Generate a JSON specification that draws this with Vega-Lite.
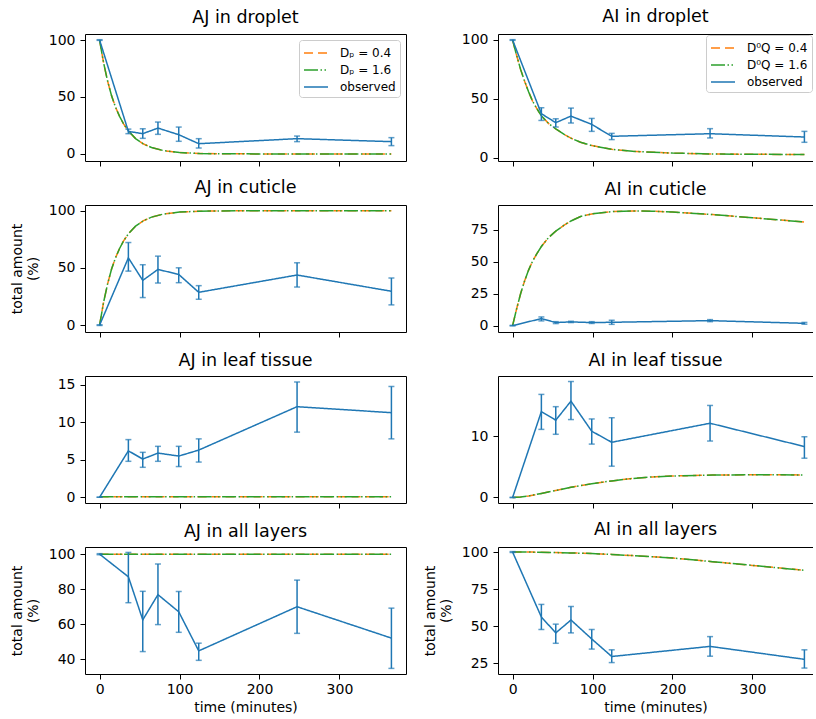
{
  "$schema": "https://vega.github.io/schema/vega-lite/v6.json",
  "autosize": {"type": "pad"},
  "padding": {"left": 9, "top": 8, "right": 0, "bottom": 0},
  "background": "#ffffff",
  "datasets": {
    "model": [
      {"p":"AJd","t":0,"y":100},{"p":"AJd","t":5,"y":80},{"p":"AJd","t":10,"y":64},{"p":"AJd","t":15,"y":51},{"p":"AJd","t":20,"y":41},{"p":"AJd","t":25,"y":33},{"p":"AJd","t":30,"y":26.4},{"p":"AJd","t":36,"y":20.2},{"p":"AJd","t":45,"y":13.5},{"p":"AJd","t":55,"y":8.7},{"p":"AJd","t":65,"y":5.6},{"p":"AJd","t":80,"y":2.9},{"p":"AJd","t":100,"y":1.2},{"p":"AJd","t":125,"y":0.4},{"p":"AJd","t":150,"y":0.15},{"p":"AJd","t":200,"y":0.02},{"p":"AJd","t":250,"y":0},{"p":"AJd","t":300,"y":0},{"p":"AJd","t":365,"y":0},
      {"p":"AJc","t":0,"y":0},{"p":"AJc","t":5,"y":20},{"p":"AJc","t":10,"y":36},{"p":"AJc","t":15,"y":49},{"p":"AJc","t":20,"y":59},{"p":"AJc","t":25,"y":67},{"p":"AJc","t":30,"y":73.6},{"p":"AJc","t":36,"y":79.8},{"p":"AJc","t":45,"y":86.5},{"p":"AJc","t":55,"y":91.3},{"p":"AJc","t":65,"y":94.4},{"p":"AJc","t":80,"y":97.1},{"p":"AJc","t":100,"y":98.8},{"p":"AJc","t":125,"y":99.6},{"p":"AJc","t":150,"y":99.85},{"p":"AJc","t":200,"y":99.98},{"p":"AJc","t":250,"y":100},{"p":"AJc","t":300,"y":100},{"p":"AJc","t":365,"y":100},
      {"p":"AJt","t":0,"y":0.05},{"p":"AJt","t":50,"y":0.05},{"p":"AJt","t":100,"y":0.05},{"p":"AJt","t":150,"y":0.05},{"p":"AJt","t":200,"y":0.05},{"p":"AJt","t":250,"y":0.05},{"p":"AJt","t":300,"y":0.05},{"p":"AJt","t":365,"y":0.05},
      {"p":"AJa","t":0,"y":100},{"p":"AJa","t":100,"y":100},{"p":"AJa","t":200,"y":99.95},{"p":"AJa","t":300,"y":99.9},{"p":"AJa","t":365,"y":99.9},
      {"p":"AId","t":0,"y":100},{"p":"AId","t":5,"y":87},{"p":"AId","t":10,"y":75},{"p":"AId","t":15,"y":65},{"p":"AId","t":20,"y":56},{"p":"AId","t":25,"y":48},{"p":"AId","t":30,"y":42},{"p":"AId","t":36,"y":35.5},{"p":"AId","t":45,"y":29},{"p":"AId","t":54,"y":24.5},{"p":"AId","t":65,"y":19.5},{"p":"AId","t":73,"y":16.5},{"p":"AId","t":85,"y":13},{"p":"AId","t":99,"y":10.2},{"p":"AId","t":124,"y":7},{"p":"AId","t":150,"y":5.3},{"p":"AId","t":200,"y":3.8},{"p":"AId","t":250,"y":3.1},{"p":"AId","t":300,"y":2.8},{"p":"AId","t":365,"y":2.6},
      {"p":"AIc","t":0,"y":0},{"p":"AIc","t":5,"y":13},{"p":"AIc","t":10,"y":25},{"p":"AIc","t":15,"y":35},{"p":"AIc","t":20,"y":43.5},{"p":"AIc","t":25,"y":50.5},{"p":"AIc","t":30,"y":56},{"p":"AIc","t":36,"y":62},{"p":"AIc","t":45,"y":69},{"p":"AIc","t":54,"y":74},{"p":"AIc","t":65,"y":79},{"p":"AIc","t":73,"y":82},{"p":"AIc","t":85,"y":85.5},{"p":"AIc","t":99,"y":87.5},{"p":"AIc","t":124,"y":89.3},{"p":"AIc","t":150,"y":89.8},{"p":"AIc","t":175,"y":89.6},{"p":"AIc","t":200,"y":89},{"p":"AIc","t":250,"y":87},{"p":"AIc","t":300,"y":84.5},{"p":"AIc","t":365,"y":81.2},
      {"p":"AIt","t":0,"y":0},{"p":"AIt","t":10,"y":0.08},{"p":"AIt","t":20,"y":0.25},{"p":"AIt","t":36,"y":0.65},{"p":"AIt","t":54,"y":1.15},{"p":"AIt","t":73,"y":1.65},{"p":"AIt","t":99,"y":2.25},{"p":"AIt","t":124,"y":2.7},{"p":"AIt","t":150,"y":3.1},{"p":"AIt","t":175,"y":3.35},{"p":"AIt","t":200,"y":3.5},{"p":"AIt","t":250,"y":3.65},{"p":"AIt","t":300,"y":3.7},{"p":"AIt","t":365,"y":3.68},
      {"p":"AIa","t":0,"y":100},{"p":"AIa","t":25,"y":99.95},{"p":"AIa","t":50,"y":99.7},{"p":"AIa","t":73,"y":99.4},{"p":"AIa","t":99,"y":99},{"p":"AIa","t":124,"y":98.4},{"p":"AIa","t":150,"y":97.6},{"p":"AIa","t":200,"y":96},{"p":"AIa","t":250,"y":93.5},{"p":"AIa","t":300,"y":91},{"p":"AIa","t":365,"y":87.7}
    ],
    "obs": [
      {"p":"AJd","t":0,"y":100,"lo":99.7,"hi":100.3},{"p":"AJd","t":36,"y":19.8,"lo":17.8,"hi":21.8},{"p":"AJd","t":54,"y":17.8,"lo":13.7,"hi":22.1},{"p":"AJd","t":73,"y":22.7,"lo":17.2,"hi":28},{"p":"AJd","t":99,"y":16.9,"lo":11.1,"hi":23.6},{"p":"AJd","t":124,"y":9.0,"lo":5.2,"hi":13.4},{"p":"AJd","t":247,"y":13.4,"lo":10.8,"hi":15.7},{"p":"AJd","t":365,"y":10.8,"lo":7.3,"hi":14.3},
      {"p":"AId","t":0,"y":100,"lo":99.7,"hi":100.3},{"p":"AId","t":36,"y":37.3,"lo":31.6,"hi":42.4},{"p":"AId","t":54,"y":29.7,"lo":26,"hi":33},{"p":"AId","t":73,"y":35.3,"lo":29.4,"hi":42.1},{"p":"AId","t":99,"y":28.2,"lo":22.3,"hi":33.3},{"p":"AId","t":124,"y":18.1,"lo":15.3,"hi":20.6},{"p":"AId","t":247,"y":20.3,"lo":16.7,"hi":24.6},{"p":"AId","t":365,"y":17.5,"lo":13,"hi":22.3},
      {"p":"AJc","t":0,"y":0,"lo":-0.3,"hi":0.3},{"p":"AJc","t":36,"y":58.8,"lo":47.2,"hi":72.2},{"p":"AJc","t":54,"y":39.1,"lo":24.1,"hi":52.8},{"p":"AJc","t":73,"y":48.7,"lo":36.8,"hi":60.3},{"p":"AJc","t":99,"y":44.3,"lo":37.1,"hi":50.1},{"p":"AJc","t":124,"y":28.7,"lo":22.6,"hi":34.5},{"p":"AJc","t":247,"y":43.8,"lo":33.3,"hi":54.5},{"p":"AJc","t":365,"y":29.6,"lo":17.7,"hi":41.2},
      {"p":"AIc","t":0,"y":0,"lo":-0.2,"hi":0.2},{"p":"AIc","t":36,"y":5.5,"lo":3.7,"hi":6.8},{"p":"AIc","t":54,"y":2.4,"lo":1.6,"hi":3.1},{"p":"AIc","t":73,"y":2.9,"lo":2.4,"hi":3.4},{"p":"AIc","t":99,"y":2.4,"lo":1.7,"hi":3.1},{"p":"AIc","t":124,"y":2.6,"lo":1.0,"hi":4.2},{"p":"AIc","t":247,"y":3.9,"lo":3.1,"hi":4.7},{"p":"AIc","t":365,"y":1.8,"lo":1.1,"hi":2.5},
      {"p":"AJt","t":0,"y":0,"lo":0,"hi":0},{"p":"AJt","t":36,"y":6.2,"lo":4.8,"hi":7.7},{"p":"AJt","t":54,"y":5.1,"lo":4.0,"hi":6.0},{"p":"AJt","t":73,"y":5.9,"lo":4.8,"hi":6.8},{"p":"AJt","t":99,"y":5.5,"lo":4.1,"hi":6.8},{"p":"AJt","t":124,"y":6.3,"lo":4.7,"hi":7.8},{"p":"AJt","t":247,"y":12.1,"lo":8.7,"hi":15.4},{"p":"AJt","t":365,"y":11.3,"lo":7.8,"hi":14.8},
      {"p":"AIt","t":0,"y":0,"lo":0,"hi":0},{"p":"AIt","t":36,"y":14.0,"lo":11.1,"hi":16.8},{"p":"AIt","t":54,"y":12.6,"lo":10.3,"hi":14.8},{"p":"AIt","t":73,"y":15.7,"lo":12.7,"hi":18.9},{"p":"AIt","t":99,"y":10.8,"lo":8.7,"hi":12.8},{"p":"AIt","t":124,"y":9.0,"lo":5.1,"hi":13.0},{"p":"AIt","t":247,"y":12.1,"lo":9.2,"hi":15.0},{"p":"AIt","t":365,"y":8.3,"lo":6.4,"hi":9.9},
      {"p":"AJa","t":0,"y":100,"lo":99.7,"hi":100.3},{"p":"AJa","t":36,"y":87.1,"lo":72.3,"hi":101},{"p":"AJa","t":54,"y":62.5,"lo":44.4,"hi":78.8},{"p":"AJa","t":73,"y":76.9,"lo":59.8,"hi":94.4},{"p":"AJa","t":99,"y":67.1,"lo":55.4,"hi":78.7},{"p":"AJa","t":124,"y":44.8,"lo":39.4,"hi":49.2},{"p":"AJa","t":247,"y":70.0,"lo":54.8,"hi":85.2},{"p":"AJa","t":365,"y":52.1,"lo":34.8,"hi":69.2},
      {"p":"AIa","t":0,"y":100,"lo":99.7,"hi":100.3},{"p":"AIa","t":36,"y":56.2,"lo":47.8,"hi":64.7},{"p":"AIa","t":54,"y":45.5,"lo":38.5,"hi":51.4},{"p":"AIa","t":73,"y":54.2,"lo":45.5,"hi":63.3},{"p":"AIa","t":99,"y":41.4,"lo":34.6,"hi":47.8},{"p":"AIa","t":124,"y":29.6,"lo":25.5,"hi":34.1},{"p":"AIa","t":247,"y":36.4,"lo":29.8,"hi":43.0},{"p":"AIa","t":365,"y":27.7,"lo":21.8,"hi":34.1}
    ]
  },
  "columns": 2,
  "spacing": {"row": 44, "column": 92},
  "bounds": "flush",
  "resolve": {
    "scale": {"x": "independent", "y": "independent", "color": "independent", "strokeDash": "independent"},
    "axis": {"x": "independent", "y": "independent"},
    "legend": {"color": "independent", "strokeDash": "independent"}
  },
  "concat": [
    {
      "title": "AJ in droplet", "width": 321, "height": 127,
      "encoding": {"x": {"field": "t", "type": "quantitative", "scale": {"domain": [-18.25, 383.25], "nice": false, "zero": false}, "axis": {"values": [0, 100, 200, 300], "labels": false, "title": null}}},
      "layer": [
        {"data": {"name": "model"}, "transform": [{"filter": "datum.p == 'AJd'"}], "mark": {"type": "line", "strokeWidth": 1.5},
         "encoding": {"y": {"field": "y", "type": "quantitative", "scale": {"domain": [-6.2, 105.3], "nice": false, "zero": false}, "axis": {"values": [0, 50, 100], "title": null}},
           "color": {"datum": "0.4", "type": "nominal", "scale": {"domain": ["0.4", "1.6", "observed"], "range": ["#ff7f0e", "#2ca02c", "#1f77b4"]}, "legend": {"title": null, "labelExpr": "datum.label == 'observed' ? 'observed' : 'Dₚ = ' + datum.label"}},
           "strokeDash": {"datum": "0.4", "type": "nominal", "scale": {"domain": ["0.4", "1.6", "observed"], "range": [[9, 5], [14, 2.5, 1.5, 2.5, 1.5, 2.5], [1, 0]]}, "legend": {"title": null, "labelExpr": "datum.label == 'observed' ? 'observed' : 'Dₚ = ' + datum.label"}}}},
        {"data": {"name": "model"}, "transform": [{"filter": "datum.p == 'AJd'"}], "mark": {"type": "line", "strokeWidth": 1.5},
         "encoding": {"y": {"field": "y", "type": "quantitative", "axis": {"values": [0, 50, 100], "title": null}}, "color": {"datum": "1.6", "type": "nominal"}, "strokeDash": {"datum": "1.6", "type": "nominal"}}},
        {"data": {"name": "obs"}, "transform": [{"filter": "datum.p == 'AJd'"}], "mark": {"type": "line", "strokeWidth": 1.5},
         "encoding": {"y": {"field": "y", "type": "quantitative", "axis": {"values": [0, 50, 100], "title": null}}, "color": {"datum": "observed", "type": "nominal"}, "strokeDash": {"datum": "observed", "type": "nominal"}}},
        {"data": {"name": "obs"}, "transform": [{"filter": "datum.p == 'AJd'"}], "mark": {"type": "errorbar", "ticks": true, "size": 6, "thickness": 1.5, "color": "#1f77b4"},
         "encoding": {"y": {"field": "lo", "type": "quantitative", "axis": {"values": [0, 50, 100], "title": null}}, "y2": {"field": "hi"}}}
      ]
    },
    {
      "title": "AI in droplet", "width": 315, "height": 127,
      "view": {"stroke": null},
      "resolve": {"axis": {"x": "independent"}},
      "layer": [
        {"data": {"name": "model"}, "transform": [{"filter": "datum.p == 'AId'"}], "mark": {"type": "line", "strokeWidth": 1.5},
         "encoding": {"x": {"field": "t", "type": "quantitative", "scale": {"domain": [-18.25, 375.75], "nice": false, "zero": false}, "axis": {"orient": "top", "domain": true, "domainColor": "#000000", "domainWidth": 1, "ticks": false, "labels": false, "title": null}},
           "y": {"field": "y", "type": "quantitative", "scale": {"domain": [-2.9, 105.1], "nice": false, "zero": false}, "axis": {"values": [0, 50, 100], "title": null, "domain": true, "domainColor": "#000000", "domainWidth": 1}},
           "color": {"datum": "0.4", "type": "nominal", "scale": {"domain": ["0.4", "1.6", "observed"], "range": ["#ff7f0e", "#2ca02c", "#1f77b4"]}, "legend": {"title": null, "offset": 1, "labelExpr": "datum.label == 'observed' ? 'observed' : 'D⁰Q = ' + datum.label"}},
           "strokeDash": {"datum": "0.4", "type": "nominal", "scale": {"domain": ["0.4", "1.6", "observed"], "range": [[9, 5], [14, 2.5, 1.5, 2.5, 1.5, 2.5], [1, 0]]}, "legend": {"title": null, "offset": 1, "labelExpr": "datum.label == 'observed' ? 'observed' : 'D⁰Q = ' + datum.label"}}}},
        {"data": {"name": "model"}, "transform": [{"filter": "datum.p == 'AId'"}], "mark": {"type": "line", "strokeWidth": 1.5},
         "encoding": {"x": {"field": "t", "type": "quantitative", "axis": null}, "y": {"field": "y", "type": "quantitative", "axis": {"values": [0, 50, 100], "title": null, "domain": true, "domainColor": "#000000", "domainWidth": 1}}, "color": {"datum": "1.6", "type": "nominal"}, "strokeDash": {"datum": "1.6", "type": "nominal"}}},
        {"data": {"name": "obs"}, "transform": [{"filter": "datum.p == 'AId'"}], "mark": {"type": "line", "strokeWidth": 1.5},
         "encoding": {"x": {"field": "t", "type": "quantitative", "axis": {"values": [0, 100, 200, 300], "labels": false, "title": null, "domain": true, "domainColor": "#000000", "domainWidth": 1}}, "y": {"field": "y", "type": "quantitative", "axis": {"values": [0, 50, 100], "title": null, "domain": true, "domainColor": "#000000", "domainWidth": 1}}, "color": {"datum": "observed", "type": "nominal"}, "strokeDash": {"datum": "observed", "type": "nominal"}}},
        {"data": {"name": "obs"}, "transform": [{"filter": "datum.p == 'AId'"}], "mark": {"type": "errorbar", "ticks": true, "size": 6, "thickness": 1.5, "color": "#1f77b4"},
         "encoding": {"x": {"field": "t", "type": "quantitative", "axis": null}, "y": {"field": "lo", "type": "quantitative", "axis": {"values": [0, 50, 100], "title": null, "domain": true, "domainColor": "#000000", "domainWidth": 1}}, "y2": {"field": "hi"}}}
      ]
    },
    {
      "title": "AJ in cuticle", "width": 321, "height": 127,
      "encoding": {"x": {"field": "t", "type": "quantitative", "scale": {"domain": [-18.25, 383.25], "nice": false, "zero": false}, "axis": {"values": [0, 100, 200, 300], "labels": false, "title": null}}},
      "layer": [
        {"data": {"name": "model"}, "transform": [{"filter": "datum.p == 'AJc'"}], "mark": {"type": "line", "strokeWidth": 1.5},
         "encoding": {"y": {"field": "y", "type": "quantitative", "scale": {"domain": [-6, 105], "nice": false, "zero": false}, "axis": {"values": [0, 50, 100], "title": ["total amount", "(%)"]}},
           "color": {"datum": "0.4", "type": "nominal", "scale": {"domain": ["0.4", "1.6", "observed"], "range": ["#ff7f0e", "#2ca02c", "#1f77b4"]}, "legend": null},
           "strokeDash": {"datum": "0.4", "type": "nominal", "scale": {"domain": ["0.4", "1.6", "observed"], "range": [[9, 5], [14, 2.5, 1.5, 2.5, 1.5, 2.5], [1, 0]]}, "legend": null}}},
        {"data": {"name": "model"}, "transform": [{"filter": "datum.p == 'AJc'"}], "mark": {"type": "line", "strokeWidth": 1.5},
         "encoding": {"y": {"field": "y", "type": "quantitative", "axis": {"values": [0, 50, 100], "title": ["total amount", "(%)"]}}, "color": {"datum": "1.6", "type": "nominal", "legend": null}, "strokeDash": {"datum": "1.6", "type": "nominal", "legend": null}}},
        {"data": {"name": "obs"}, "transform": [{"filter": "datum.p == 'AJc'"}], "mark": {"type": "line", "strokeWidth": 1.5},
         "encoding": {"y": {"field": "y", "type": "quantitative", "axis": {"values": [0, 50, 100], "title": ["total amount", "(%)"]}}, "color": {"datum": "observed", "type": "nominal", "legend": null}, "strokeDash": {"datum": "observed", "type": "nominal", "legend": null}}},
        {"data": {"name": "obs"}, "transform": [{"filter": "datum.p == 'AJc'"}], "mark": {"type": "errorbar", "ticks": true, "size": 6, "thickness": 1.5, "color": "#1f77b4"},
         "encoding": {"y": {"field": "lo", "type": "quantitative", "axis": {"values": [0, 50, 100], "title": ["total amount", "(%)"]}}, "y2": {"field": "hi"}}}
      ]
    },
    {
      "title": "AI in cuticle", "width": 315, "height": 127,
      "view": {"stroke": null},
      "resolve": {"axis": {"x": "independent"}},
      "layer": [
        {"data": {"name": "model"}, "transform": [{"filter": "datum.p == 'AIc'"}], "mark": {"type": "line", "strokeWidth": 1.5},
         "encoding": {"x": {"field": "t", "type": "quantitative", "scale": {"domain": [-18.25, 375.75], "nice": false, "zero": false}, "axis": {"orient": "top", "domain": true, "domainColor": "#000000", "domainWidth": 1, "ticks": false, "labels": false, "title": null}},
           "y": {"field": "y", "type": "quantitative", "scale": {"domain": [-5, 94.5], "nice": false, "zero": false}, "axis": {"values": [0, 25, 50, 75], "title": null, "domain": true, "domainColor": "#000000", "domainWidth": 1}},
           "color": {"datum": "0.4", "type": "nominal", "scale": {"domain": ["0.4", "1.6", "observed"], "range": ["#ff7f0e", "#2ca02c", "#1f77b4"]}, "legend": null},
           "strokeDash": {"datum": "0.4", "type": "nominal", "scale": {"domain": ["0.4", "1.6", "observed"], "range": [[9, 5], [14, 2.5, 1.5, 2.5, 1.5, 2.5], [1, 0]]}, "legend": null}}},
        {"data": {"name": "model"}, "transform": [{"filter": "datum.p == 'AIc'"}], "mark": {"type": "line", "strokeWidth": 1.5},
         "encoding": {"x": {"field": "t", "type": "quantitative", "axis": null}, "y": {"field": "y", "type": "quantitative", "axis": {"values": [0, 25, 50, 75], "title": null, "domain": true, "domainColor": "#000000", "domainWidth": 1}}, "color": {"datum": "1.6", "type": "nominal", "legend": null}, "strokeDash": {"datum": "1.6", "type": "nominal", "legend": null}}},
        {"data": {"name": "obs"}, "transform": [{"filter": "datum.p == 'AIc'"}], "mark": {"type": "line", "strokeWidth": 1.5},
         "encoding": {"x": {"field": "t", "type": "quantitative", "axis": {"values": [0, 100, 200, 300], "labels": false, "title": null, "domain": true, "domainColor": "#000000", "domainWidth": 1}}, "y": {"field": "y", "type": "quantitative", "axis": {"values": [0, 25, 50, 75], "title": null, "domain": true, "domainColor": "#000000", "domainWidth": 1}}, "color": {"datum": "observed", "type": "nominal", "legend": null}, "strokeDash": {"datum": "observed", "type": "nominal", "legend": null}}},
        {"data": {"name": "obs"}, "transform": [{"filter": "datum.p == 'AIc'"}], "mark": {"type": "errorbar", "ticks": true, "size": 6, "thickness": 1.5, "color": "#1f77b4"},
         "encoding": {"x": {"field": "t", "type": "quantitative", "axis": null}, "y": {"field": "lo", "type": "quantitative", "axis": {"values": [0, 25, 50, 75], "title": null, "domain": true, "domainColor": "#000000", "domainWidth": 1}}, "y2": {"field": "hi"}}}
      ]
    },
    {
      "title": "AJ in leaf tissue", "width": 321, "height": 127,
      "encoding": {"x": {"field": "t", "type": "quantitative", "scale": {"domain": [-18.25, 383.25], "nice": false, "zero": false}, "axis": {"values": [0, 100, 200, 300], "labels": false, "title": null}}},
      "layer": [
        {"data": {"name": "model"}, "transform": [{"filter": "datum.p == 'AJt'"}], "mark": {"type": "line", "strokeWidth": 1.5},
         "encoding": {"y": {"field": "y", "type": "quantitative", "scale": {"domain": [-0.77, 16.2], "nice": false, "zero": false}, "axis": {"values": [0, 5, 10, 15], "title": null}},
           "color": {"datum": "0.4", "type": "nominal", "scale": {"domain": ["0.4", "1.6", "observed"], "range": ["#ff7f0e", "#2ca02c", "#1f77b4"]}, "legend": null},
           "strokeDash": {"datum": "0.4", "type": "nominal", "scale": {"domain": ["0.4", "1.6", "observed"], "range": [[9, 5], [14, 2.5, 1.5, 2.5, 1.5, 2.5], [1, 0]]}, "legend": null}}},
        {"data": {"name": "model"}, "transform": [{"filter": "datum.p == 'AJt'"}], "mark": {"type": "line", "strokeWidth": 1.5},
         "encoding": {"y": {"field": "y", "type": "quantitative", "axis": {"values": [0, 5, 10, 15], "title": null}}, "color": {"datum": "1.6", "type": "nominal", "legend": null}, "strokeDash": {"datum": "1.6", "type": "nominal", "legend": null}}},
        {"data": {"name": "obs"}, "transform": [{"filter": "datum.p == 'AJt'"}], "mark": {"type": "line", "strokeWidth": 1.5},
         "encoding": {"y": {"field": "y", "type": "quantitative", "axis": {"values": [0, 5, 10, 15], "title": null}}, "color": {"datum": "observed", "type": "nominal", "legend": null}, "strokeDash": {"datum": "observed", "type": "nominal", "legend": null}}},
        {"data": {"name": "obs"}, "transform": [{"filter": "datum.p == 'AJt'"}], "mark": {"type": "errorbar", "ticks": true, "size": 6, "thickness": 1.5, "color": "#1f77b4"},
         "encoding": {"y": {"field": "lo", "type": "quantitative", "axis": {"values": [0, 5, 10, 15], "title": null}}, "y2": {"field": "hi"}}}
      ]
    },
    {
      "title": "AI in leaf tissue", "width": 315, "height": 127,
      "view": {"stroke": null},
      "resolve": {"axis": {"x": "independent"}},
      "layer": [
        {"data": {"name": "model"}, "transform": [{"filter": "datum.p == 'AIt'"}], "mark": {"type": "line", "strokeWidth": 1.5},
         "encoding": {"x": {"field": "t", "type": "quantitative", "scale": {"domain": [-18.25, 375.75], "nice": false, "zero": false}, "axis": {"orient": "top", "domain": true, "domainColor": "#000000", "domainWidth": 1, "ticks": false, "labels": false, "title": null}},
           "y": {"field": "y", "type": "quantitative", "scale": {"domain": [-0.9, 19.8], "nice": false, "zero": false}, "axis": {"values": [0, 10], "title": null, "domain": true, "domainColor": "#000000", "domainWidth": 1}},
           "color": {"datum": "0.4", "type": "nominal", "scale": {"domain": ["0.4", "1.6", "observed"], "range": ["#ff7f0e", "#2ca02c", "#1f77b4"]}, "legend": null},
           "strokeDash": {"datum": "0.4", "type": "nominal", "scale": {"domain": ["0.4", "1.6", "observed"], "range": [[9, 5], [14, 2.5, 1.5, 2.5, 1.5, 2.5], [1, 0]]}, "legend": null}}},
        {"data": {"name": "model"}, "transform": [{"filter": "datum.p == 'AIt'"}], "mark": {"type": "line", "strokeWidth": 1.5},
         "encoding": {"x": {"field": "t", "type": "quantitative", "axis": null}, "y": {"field": "y", "type": "quantitative", "axis": {"values": [0, 10], "title": null, "domain": true, "domainColor": "#000000", "domainWidth": 1}}, "color": {"datum": "1.6", "type": "nominal", "legend": null}, "strokeDash": {"datum": "1.6", "type": "nominal", "legend": null}}},
        {"data": {"name": "obs"}, "transform": [{"filter": "datum.p == 'AIt'"}], "mark": {"type": "line", "strokeWidth": 1.5},
         "encoding": {"x": {"field": "t", "type": "quantitative", "axis": {"values": [0, 100, 200, 300], "labels": false, "title": null, "domain": true, "domainColor": "#000000", "domainWidth": 1}}, "y": {"field": "y", "type": "quantitative", "axis": {"values": [0, 10], "title": null, "domain": true, "domainColor": "#000000", "domainWidth": 1}}, "color": {"datum": "observed", "type": "nominal", "legend": null}, "strokeDash": {"datum": "observed", "type": "nominal", "legend": null}}},
        {"data": {"name": "obs"}, "transform": [{"filter": "datum.p == 'AIt'"}], "mark": {"type": "errorbar", "ticks": true, "size": 6, "thickness": 1.5, "color": "#1f77b4"},
         "encoding": {"x": {"field": "t", "type": "quantitative", "axis": null}, "y": {"field": "lo", "type": "quantitative", "axis": {"values": [0, 10], "title": null, "domain": true, "domainColor": "#000000", "domainWidth": 1}}, "y2": {"field": "hi"}}}
      ]
    },
    {
      "title": "AJ in all layers", "width": 321, "height": 127,
      "encoding": {"x": {"field": "t", "type": "quantitative", "scale": {"domain": [-18.25, 383.25], "nice": false, "zero": false}, "axis": {"values": [0, 100, 200, 300], "title": "time (minutes)"}}},
      "layer": [
        {"data": {"name": "model"}, "transform": [{"filter": "datum.p == 'AJa'"}], "mark": {"type": "line", "strokeWidth": 1.5},
         "encoding": {"y": {"field": "y", "type": "quantitative", "scale": {"domain": [31.6, 104.1], "nice": false, "zero": false}, "axis": {"values": [40, 60, 80, 100], "title": ["total amount", "(%)"]}},
           "color": {"datum": "0.4", "type": "nominal", "scale": {"domain": ["0.4", "1.6", "observed"], "range": ["#ff7f0e", "#2ca02c", "#1f77b4"]}, "legend": null},
           "strokeDash": {"datum": "0.4", "type": "nominal", "scale": {"domain": ["0.4", "1.6", "observed"], "range": [[9, 5], [14, 2.5, 1.5, 2.5, 1.5, 2.5], [1, 0]]}, "legend": null}}},
        {"data": {"name": "model"}, "transform": [{"filter": "datum.p == 'AJa'"}], "mark": {"type": "line", "strokeWidth": 1.5},
         "encoding": {"y": {"field": "y", "type": "quantitative", "axis": {"values": [40, 60, 80, 100], "title": ["total amount", "(%)"]}}, "color": {"datum": "1.6", "type": "nominal", "legend": null}, "strokeDash": {"datum": "1.6", "type": "nominal", "legend": null}}},
        {"data": {"name": "obs"}, "transform": [{"filter": "datum.p == 'AJa'"}], "mark": {"type": "line", "strokeWidth": 1.5},
         "encoding": {"y": {"field": "y", "type": "quantitative", "axis": {"values": [40, 60, 80, 100], "title": ["total amount", "(%)"]}}, "color": {"datum": "observed", "type": "nominal", "legend": null}, "strokeDash": {"datum": "observed", "type": "nominal", "legend": null}}},
        {"data": {"name": "obs"}, "transform": [{"filter": "datum.p == 'AJa'"}], "mark": {"type": "errorbar", "ticks": true, "size": 6, "thickness": 1.5, "color": "#1f77b4"},
         "encoding": {"y": {"field": "lo", "type": "quantitative", "axis": {"values": [40, 60, 80, 100], "title": ["total amount", "(%)"]}}, "y2": {"field": "hi"}}}
      ]
    },
    {
      "title": "AI in all layers", "width": 315, "height": 127,
      "view": {"stroke": null},
      "resolve": {"axis": {"x": "independent"}},
      "layer": [
        {"data": {"name": "model"}, "transform": [{"filter": "datum.p == 'AIa'"}], "mark": {"type": "line", "strokeWidth": 1.5},
         "encoding": {"x": {"field": "t", "type": "quantitative", "scale": {"domain": [-18.25, 375.75], "nice": false, "zero": false}, "axis": {"orient": "top", "domain": true, "domainColor": "#000000", "domainWidth": 1, "ticks": false, "labels": false, "title": null}},
           "y": {"field": "y", "type": "quantitative", "scale": {"domain": [17.8, 103.4], "nice": false, "zero": false}, "axis": {"values": [25, 50, 75, 100], "title": ["total amount", "(%)"], "domain": true, "domainColor": "#000000", "domainWidth": 1}},
           "color": {"datum": "0.4", "type": "nominal", "scale": {"domain": ["0.4", "1.6", "observed"], "range": ["#ff7f0e", "#2ca02c", "#1f77b4"]}, "legend": null},
           "strokeDash": {"datum": "0.4", "type": "nominal", "scale": {"domain": ["0.4", "1.6", "observed"], "range": [[9, 5], [14, 2.5, 1.5, 2.5, 1.5, 2.5], [1, 0]]}, "legend": null}}},
        {"data": {"name": "model"}, "transform": [{"filter": "datum.p == 'AIa'"}], "mark": {"type": "line", "strokeWidth": 1.5},
         "encoding": {"x": {"field": "t", "type": "quantitative", "axis": null}, "y": {"field": "y", "type": "quantitative", "axis": {"values": [25, 50, 75, 100], "title": ["total amount", "(%)"], "domain": true, "domainColor": "#000000", "domainWidth": 1}}, "color": {"datum": "1.6", "type": "nominal", "legend": null}, "strokeDash": {"datum": "1.6", "type": "nominal", "legend": null}}},
        {"data": {"name": "obs"}, "transform": [{"filter": "datum.p == 'AIa'"}], "mark": {"type": "line", "strokeWidth": 1.5},
         "encoding": {"x": {"field": "t", "type": "quantitative", "axis": {"values": [0, 100, 200, 300], "title": "time (minutes)", "domain": true, "domainColor": "#000000", "domainWidth": 1}}, "y": {"field": "y", "type": "quantitative", "axis": {"values": [25, 50, 75, 100], "title": ["total amount", "(%)"], "domain": true, "domainColor": "#000000", "domainWidth": 1}}, "color": {"datum": "observed", "type": "nominal", "legend": null}, "strokeDash": {"datum": "observed", "type": "nominal", "legend": null}}},
        {"data": {"name": "obs"}, "transform": [{"filter": "datum.p == 'AIa'"}], "mark": {"type": "errorbar", "ticks": true, "size": 6, "thickness": 1.5, "color": "#1f77b4"},
         "encoding": {"x": {"field": "t", "type": "quantitative", "axis": null}, "y": {"field": "lo", "type": "quantitative", "axis": {"values": [25, 50, 75, 100], "title": ["total amount", "(%)"], "domain": true, "domainColor": "#000000", "domainWidth": 1}}, "y2": {"field": "hi"}}}
      ]
    }
  ],
  "config": {
    "font": "DejaVu Sans",
    "view": {"stroke": "#000000", "strokeWidth": 1},
    "axis": {"domain": false, "grid": false, "ticks": true, "tickColor": "#000000", "tickSize": 5, "tickWidth": 1, "labelColor": "#000000", "labelFont": "DejaVu Sans", "labelFontSize": 14, "titleFont": "DejaVu Sans", "titleFontSize": 14, "titleFontWeight": "normal", "titleColor": "#000000"},
    "axisY": {"labelPadding": 5, "titlePadding": 8},
    "axisX": {"labelPadding": 3, "titlePadding": 4},
    "title": {"font": "DejaVu Sans", "fontSize": 17.5, "fontWeight": "normal", "color": "#000000", "offset": 7},
    "legend": {"orient": "top-right", "offset": 6, "strokeColor": "#cccccc", "fillColor": "#ffffff", "cornerRadius": 3, "padding": 4, "symbolType": "M-1,0H2", "symbolStrokeWidth": 1.5, "symbolSize": 256, "labelFontSize": 12, "labelFont": "DejaVu Sans", "labelColor": "#000000", "rowPadding": 2, "labelOffset": 19}
  }
}
